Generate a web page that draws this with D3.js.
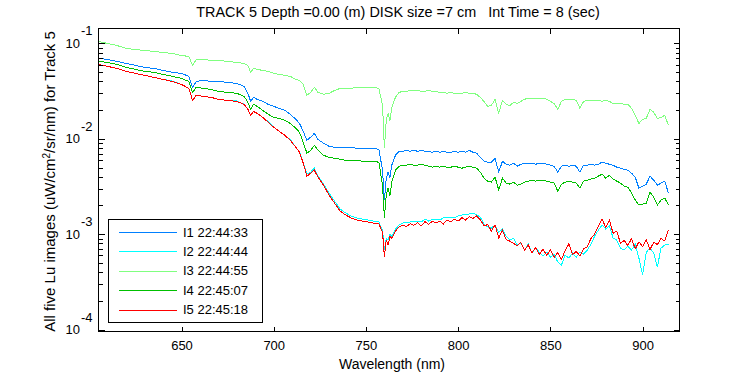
<!DOCTYPE html>
<html>
<head>
<meta charset="utf-8">
<script src="https://cdn.jsdelivr.net/npm/d3@7"></script>
<style>
  body { margin: 0; background: #fff; }
  svg text { font-family: "Liberation Sans", Arial, sans-serif; font-size: 13px; fill: #000; }
</style>
</head>
<body>
<div id="chart"></div>
<script>
// wavelength grid (nm)
const wavelengths = [
  605, 610, 615, 620, 625, 630, 635, 640, 645, 650,
  654, 656, 658, 662, 666, 670, 675, 680, 684, 686,
  687.5, 689, 691, 694, 697, 700,
  703, 706, 709, 712, 714, 716, 718, 720, 722, 724,
  727, 730, 733, 736, 739, 742, 745, 748, 751, 754,
  757, 759, 760, 761, 762, 763, 764, 766, 768,
  770, 772, 774, 776, 778, 780, 782, 784, 786, 788, 790, 792, 794, 796, 798, 800, 802, 804, 806, 808,
  810, 812, 814, 816, 818, 820, 822, 824, 826, 828, 830, 832, 834, 836, 838, 840, 842, 844, 846, 848,
  850, 852, 854, 856, 858, 860, 862, 864, 866, 868, 870, 872, 874, 876, 878, 880, 882, 884, 886, 888,
  890, 892, 894, 896, 898, 900, 902, 904, 906, 908, 910, 912, 914
]

// Lu for each image, in 1e-3 uW/cm^2/sr/nm
const luI1 = [
  69.7, 68.0, 64.8, 61.8, 58.9, 56.1, 54.8, 52.2, 49.8, 48.6,
  45.2, 34.7, 40.0, 41.0, 40.0, 40.0, 39.1, 38.1, 35.5, 30.0,
  24.7, 27.2, 26.0, 24.7, 23.0, 21.9,
  20.9, 19.9, 18.1, 16.0, 14.5, 12.0, 9.65, 10.4, 11.4, 9.88,
  8.98, 8.35, 8.15, 8.15, 8.15, 8.15, 7.96, 7.96, 7.96, 7.96,
  7.77, 4.69, 2.28, 3.87, 4.47, 3.87, 5.29, 6.72, 7.40,
  7.40, 7.58, 7.40, 7.58, 7.40, 7.58, 7.40, 7.40, 7.23, 7.40, 7.23, 7.40, 7.23, 7.23, 7.40, 7.23, 7.40, 7.23, 7.58, 7.23,
  7.06, 6.41, 5.82, 5.68, 5.68, 6.26, 4.47, 5.82, 5.41, 5.29, 5.55, 5.16, 5.41, 5.55, 5.55, 5.55, 5.41, 5.55, 5.55, 5.41,
  5.29, 5.16, 4.47, 5.16, 5.29, 5.16, 5.29, 5.16, 4.47, 5.29, 5.29, 5.41, 5.29, 5.41, 5.68, 5.55, 5.41, 5.29, 5.04, 4.92,
  4.80, 4.69, 4.36, 3.96, 3.04, 3.19, 3.35, 4.06, 3.69, 3.27, 3.43, 3.60, 2.70
]
const luI2 = [
  60.3, 57.5, 54.8, 51.0, 48.6, 46.3, 44.1, 42.0, 40.4, 37.2,
  33.8, 25.3, 28.6, 27.9, 27.2, 26.0, 25.3, 25.0, 23.0, 20.4,
  17.6, 19.4, 18.5, 16.8, 15.2, 13.2,
  12.0, 10.9, 9.80, 8.15, 7.23, 5.68, 4.26, 4.47, 4.92, 4.06,
  3.35, 2.70, 2.22, 1.83, 1.67, 1.55, 1.48, 1.44, 1.41, 1.37,
  1.34, 1.10, 0.680, 0.908, 0.865, 1.00, 0.953, 1.13, 1.25,
  1.31, 1.34, 1.34, 1.37, 1.37, 1.34, 1.44, 1.37, 1.44, 1.44, 1.41, 1.48, 1.48, 1.51, 1.48, 1.55, 1.59, 1.59, 1.63, 1.67,
  1.59, 1.51, 1.28, 1.19, 1.16, 1.25, 1.05, 1.13, 0.953, 0.865, 0.908, 0.767, 0.805, 0.680, 0.786, 0.633, 0.714, 0.648, 0.589, 0.648,
  0.575, 0.618, 0.510, 0.475, 0.603, 0.561, 0.633, 0.575, 0.648, 0.618, 0.680, 0.786, 0.953, 1.10, 1.25, 1.13, 1.22, 0.908, 0.865, 0.714,
  0.680, 0.749, 0.680, 0.786, 0.561, 0.374, 0.648, 0.714, 0.633, 0.453, 0.714, 0.767, 0.786
]
const luI3 = [
  104.9, 100, 95.3, 88.6, 86.5, 84.5, 82.5, 80.5, 78.6, 74.9,
  73.1, 58.9, 68.0, 68.0, 66.4, 66.4, 64.8, 63.3, 61.8, 58.9,
  49.8, 54.8, 53.5, 52.2, 51.0, 48.6,
  47.4, 46.3, 45.2, 42.0, 41.0, 37.2, 28.6, 30.7, 34.7, 30.7,
  29.3, 30.0, 32.2, 33.8, 33.8, 33.8, 34.7, 34.7, 34.7, 34.7,
  33.8, 22.4, 7.96, 15.6, 18.5, 15.6, 21.4, 27.2, 30.7,
  31.5, 31.5, 32.2, 32.2, 32.2, 31.5, 31.5, 32.2, 31.5, 31.5, 30.7, 30.7, 30.0, 30.7, 30.0, 30.0, 30.0, 30.7, 30.0, 30.0,
  29.3, 27.2, 24.7, 21.9, 22.4, 26.0, 18.5, 25.3, 23.0, 22.4, 24.1, 23.5, 24.7, 26.0, 26.6, 26.6, 26.6, 26.6, 26.6, 26.0,
  24.7, 23.5, 20.4, 24.7, 26.0, 26.0, 26.0, 25.3, 20.9, 24.7, 25.3, 25.3, 25.3, 25.3, 24.7, 25.3, 24.7, 23.5, 23.5, 23.5,
  23.0, 23.0, 20.9, 17.6, 14.5, 16.0, 16.4, 20.4, 19.0, 16.4, 16.8, 17.6, 13.9
]
const luI4 = [
  64.8, 63.3, 60.3, 56.1, 53.5, 51.0, 49.8, 47.4, 45.2, 43.0,
  40.0, 30.7, 34.7, 33.8, 33.0, 31.5, 30.7, 30.0, 27.9, 24.1,
  20.4, 23.0, 21.9, 19.9, 18.1, 16.8,
  16.4, 15.6, 14.5, 12.9, 11.7, 9.19, 7.06, 7.58, 8.55, 7.58,
  6.72, 6.41, 6.26, 6.11, 5.96, 5.96, 5.96, 5.82, 5.82, 5.82,
  5.68, 3.27, 1.48, 2.57, 3.04, 2.51, 3.51, 4.69, 5.16,
  5.29, 5.29, 5.41, 5.29, 5.29, 5.41, 5.29, 5.16, 5.04, 5.16, 5.04, 5.16, 5.04, 5.04, 5.16, 5.04, 4.92, 5.04, 5.16, 5.04,
  4.92, 4.47, 3.87, 3.60, 3.51, 3.96, 2.90, 3.87, 3.43, 3.35, 3.51, 3.27, 3.35, 3.51, 3.60, 3.69, 3.60, 3.69, 3.69, 3.60,
  3.51, 3.43, 2.83, 3.35, 3.51, 3.60, 3.51, 3.43, 3.04, 3.60, 3.69, 3.78, 3.87, 4.06, 4.26, 3.87, 4.16, 3.78, 3.60, 3.43,
  3.19, 3.11, 2.70, 2.28, 2.02, 2.07, 2.12, 2.76, 2.45, 2.02, 2.28, 2.39, 2.02
]
const luI5 = [
  60.3, 57.5, 54.8, 51.0, 48.6, 46.3, 44.1, 42.0, 40.0, 37.2,
  33.8, 25.3, 28.6, 27.9, 27.2, 26.0, 25.3, 24.7, 23.0, 20.4,
  17.6, 19.4, 18.5, 16.8, 14.9, 13.2,
  12.0, 10.9, 9.65, 8.15, 7.23, 5.55, 4.06, 4.36, 4.69, 3.96,
  3.27, 2.57, 2.12, 1.75, 1.59, 1.48, 1.41, 1.37, 1.34, 1.31,
  1.28, 1.05, 0.575, 0.865, 0.767, 0.953, 0.908, 1.08, 1.19,
  1.25, 1.20, 1.29, 1.24, 1.32, 1.22, 1.35, 1.27, 1.36, 1.31, 1.37, 1.28, 1.41, 1.35, 1.44, 1.37, 1.49, 1.41, 1.52, 1.46,
  1.55, 1.42, 1.22, 1.26, 1.08, 1.25, 0.910, 1.10, 0.880, 0.845, 0.800, 0.760, 0.820, 0.680, 0.770, 0.640, 0.720, 0.610, 0.700, 0.600,
  0.680, 0.570, 0.640, 0.545, 0.670, 0.790, 0.610, 0.660, 0.590, 0.700, 0.740, 0.900, 1.00, 1.22, 1.44, 1.18, 1.40, 1.02, 1.08, 0.800,
  0.860, 0.760, 0.900, 0.700, 0.830, 0.740, 0.870, 0.690, 0.820, 0.780, 0.900, 0.850, 1.10
]

const seriesNames = ["I1 22:44:33", "I2 22:44:44", "I3 22:44:55", "I4 22:45:07", "I5 22:45:18"]
const seriesColors = ["#0080ff", "#00ffff", "#80ff80", "#00c000", "#ff0000"]
const seriesValues = [luI1, luI2, luI3, luI4, luI5]

const xTicks = [650, 700, 750, 800, 850, 900]
const yMajorTicks = [1e-4, 1e-3, 1e-2, 1e-1]
const yMajorExps = ["-4", "-3", "-2", "-1"]

const titleText = "TRACK 5 Depth =0.00 (m) DISK size =7 cm   Int Time = 8 (sec)"

const width = 750
const height = 375
const plot = {left: 98, right: 679, top: 28, bottom: 331}

const svg = d3.select("#chart").append("svg")
  .attr("width", width)
  .attr("height", height)

const x = d3.scaleLinear().domain([605, 920]).range([plot.left + 0.5, plot.right + 0.5])
const y = d3.scaleLog().domain([9.53e-5, 0.1436]).range([plot.bottom + 0.5, plot.top + 0.5])

// clip for curves
svg.append("clipPath").attr("id", "plotclip")
  .append("rect")
  .attr("x", plot.left).attr("y", plot.top)
  .attr("width", plot.right - plot.left).attr("height", plot.bottom - plot.top)

const line = d3.line()
  .x(d => x(d[0]))
  .y(d => y(d[1]))

const curves = svg.append("g").attr("clip-path", "url(#plotclip)")
seriesValues.forEach((vals, i) => {
  const pts = wavelengths.map((w, j) => [w, vals[j] * 1e-3])
  curves.append("path")
    .datum(pts)
    .attr("d", line)
    .attr("fill", "none")
    .attr("stroke", seriesColors[i])
    .attr("stroke-width", 1)
    .attr("shape-rendering", "crispEdges")
})

// axes: ticks point inward on all four sides
const noLabel = () => ""
const yMinorTicks = y.ticks().filter(v => !yMajorTicks.some(m => Math.abs(m - v) / m < 1e-6))

const gBottom = svg.append("g").attr("transform", `translate(0,${plot.bottom + 0.5})`)
  .call(d3.axisBottom(x).tickValues(xTicks).tickSizeInner(-5).tickSizeOuter(0).tickPadding(9).tickFormat(d3.format("d")))
svg.append("g").attr("transform", `translate(0,${plot.top + 0.5})`)
  .call(d3.axisTop(x).tickValues(xTicks).tickSizeInner(-5).tickSizeOuter(0).tickFormat(noLabel))
svg.append("g").attr("transform", `translate(${plot.left + 0.5},0)`)
  .call(d3.axisLeft(y).tickValues(yMajorTicks).tickSizeInner(-6).tickSizeOuter(0).tickFormat(noLabel))
svg.append("g").attr("transform", `translate(${plot.left + 0.5},0)`)
  .call(d3.axisLeft(y).tickValues(yMinorTicks).tickSizeInner(-4).tickSizeOuter(0).tickFormat(noLabel))
svg.append("g").attr("transform", `translate(${plot.right + 0.5},0)`)
  .call(d3.axisRight(y).tickValues(yMajorTicks).tickSizeInner(-6).tickSizeOuter(0).tickFormat(noLabel))
svg.append("g").attr("transform", `translate(${plot.right + 0.5},0)`)
  .call(d3.axisRight(y).tickValues(yMinorTicks).tickSizeInner(-4).tickSizeOuter(0).tickFormat(noLabel))

svg.selectAll(".domain").remove()
svg.selectAll(".tick line").attr("stroke", "#000").attr("shape-rendering", "crispEdges")
gBottom.selectAll("text")
  .style("font-family", "\"Liberation Sans\", Arial, sans-serif")
  .style("font-size", "13px")
  .attr("fill", "#000")

// frame
svg.append("rect")
  .attr("x", plot.left + 0.5).attr("y", plot.top + 0.5)
  .attr("width", plot.right - plot.left).attr("height", plot.bottom - plot.top)
  .attr("fill", "none").attr("stroke", "#000").attr("stroke-width", 1)
  .attr("shape-rendering", "crispEdges")

// y tick labels as 10^n
const yLab = svg.append("g")
yMajorTicks.forEach((v, i) => {
  yLab.append("text")
    .attr("x", 80).attr("y", y(v) + 4.5)
    .attr("text-anchor", "end")
    .text("10")
  yLab.append("text")
    .attr("x", 81).attr("y", y(v) - 8)
    .text(yMajorExps[i])
})

// title and axis titles
svg.append("text")
  .attr("x", 398).attr("y", 17)
  .attr("text-anchor", "middle")
  .style("font-size", "14.4px")
  .style("white-space", "pre")
  .text(titleText)

svg.append("text")
  .attr("x", 392).attr("y", 369)
  .attr("text-anchor", "middle")
  .style("font-size", "14px")
  .text("Wavelength (nm)")

const yTitle = svg.append("text")
  .attr("transform", "translate(55,181.5) rotate(-90)")
  .attr("text-anchor", "middle")
  .style("font-size", "15px")
yTitle.append("tspan").text("All five Lu images (uW/cm")
yTitle.append("tspan").attr("dy", -5).style("font-size", "10px").text("2")
yTitle.append("tspan").attr("dy", 5).text("/sr/nm) for Track 5")

// legend
const legend = svg.append("g")
legend.append("rect")
  .attr("x", 108.5).attr("y", 219.5)
  .attr("width", 154).attr("height", 103)
  .attr("fill", "#fff").attr("stroke", "#000")
  .attr("shape-rendering", "crispEdges")
seriesNames.forEach((name, i) => {
  const ly = 232 + i * 19.4
  legend.append("line")
    .attr("x1", 119).attr("x2", 177)
    .attr("y1", Math.round(ly) + 0.5).attr("y2", Math.round(ly) + 0.5)
    .attr("stroke", seriesColors[i]).attr("stroke-width", 1)
    .attr("shape-rendering", "crispEdges")
  legend.append("text")
    .attr("x", 183).attr("y", ly + 4.5)
    .text(name)
})
</script>
</body>
</html>
